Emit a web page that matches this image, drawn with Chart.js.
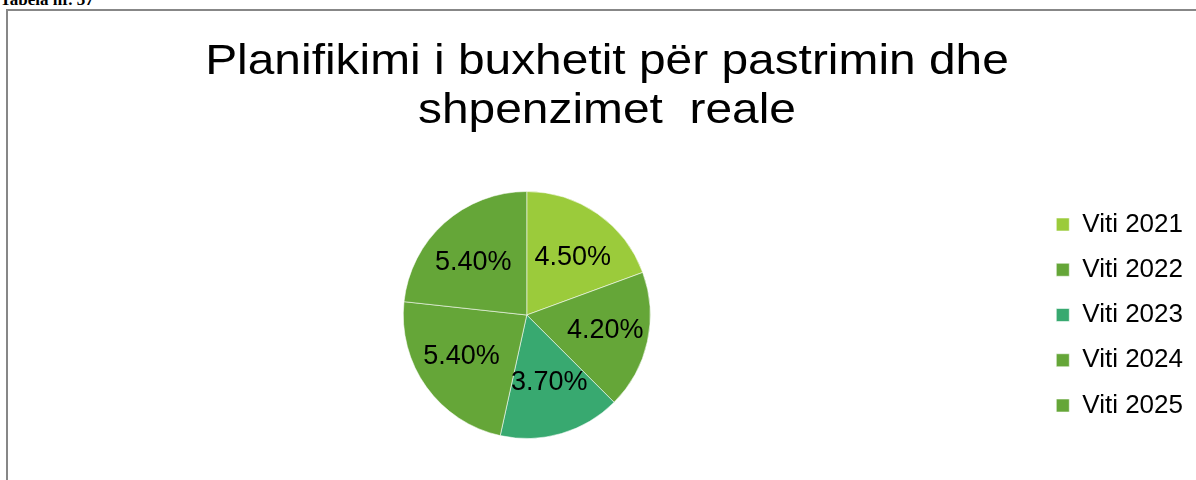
<!DOCTYPE html>
<html>
<head>
<meta charset="utf-8">
<script src="https://cdn.jsdelivr.net/npm/chart.js@4"></script>
<style>
  html, body { margin: 0; padding: 0; background: #fff; overflow: hidden; }
  #caption {
    position: absolute; left: 0; top: -8px;
    font: bold 17px "Liberation Serif", serif; line-height: 16px; color: #000;
  }
  #frame {
    position: absolute; left: 6px; top: 9px; width: 1240px; height: 520px;
    border: 2px solid #878787;
  }
  #wrap { position: absolute; left: 0; top: 0; width: 1196px; height: 480px; }
</style>
</head>
<body>
<div id="caption">Tabela nr. 37</div>
<div id="frame"></div>
<div id="wrap"><canvas id="pieChart"></canvas></div>
<script>
const titleLines = ['Planifikimi i buxhetit për pastrimin dhe', 'shpenzimet  reale'];
const years = ['Viti 2021', 'Viti 2022', 'Viti 2023', 'Viti 2024', 'Viti 2025'];
const shares = [4.5, 4.2, 3.7, 5.4, 5.4];
const sliceColors = ['#9BCB3B', '#65A638', '#38A970', '#65A638', '#65A638'];

// the title in the source is a bit wider than plain Arial, so stretch it a little
const wideTitle = {
  id: 'wideTitle',
  afterDraw(chart) {
    const ctx = chart.ctx;
    ctx.save();
    ctx.font = '42px "Liberation Sans", Arial, sans-serif';
    ctx.fillStyle = '#000';
    ctx.textAlign = 'center';
    ctx.textBaseline = 'alphabetic';
    ctx.translate(607, 0);
    ctx.scale(1.14, 1);
    ctx.fillText(titleLines[0], 0, 74);
    ctx.fillText(titleLines[1], 0, 123);
    ctx.restore();
  }
};

// percent labels inside each slice (pushed a bit sideways, like Excel's best fit)
const sliceLabels = {
  id: 'sliceLabels',
  afterDatasetsDraw(chart) {
    const ctx = chart.ctx;
    const meta = chart.getDatasetMeta(0);
    ctx.save();
    ctx.font = '27px "Liberation Sans", Arial, sans-serif';
    ctx.fillStyle = '#000';
    ctx.textAlign = 'center';
    ctx.textBaseline = 'middle';
    meta.data.forEach((arc, i) => {
      const p = arc.getProps(['x', 'y', 'startAngle', 'endAngle', 'outerRadius'], true);
      const mid = (p.startAngle + p.endAngle) / 2;
      const txt = shares[i].toFixed(2) + '%';
      ctx.fillText(txt,
        p.x + Math.cos(mid) * p.outerRadius * 0.65,
        p.y + Math.sin(mid) * p.outerRadius * 0.57);
    });
    ctx.restore();
  }
};

new Chart(document.getElementById('pieChart').getContext('2d'), {
  type: 'pie',
  data: {
    labels: years,
    datasets: [{
      data: shares,
      backgroundColor: sliceColors,
      borderColor: 'rgba(255,255,255,0.55)',
      borderWidth: 1
    }]
  },
  options: {
    responsive: true,
    maintainAspectRatio: false,
    animation: false,
    layout: {
      padding: { left: 16.5, right: 3, top: 191, bottom: 41 }
    },
    plugins: {
      title: { display: false },
      legend: {
        position: 'right',
        fullSize: false,
        labels: {
          color: '#000',
          boxWidth: 13,
          boxHeight: 13,
          padding: 19.25,
          font: { family: '"Liberation Sans", Arial, sans-serif', size: 26 }
        }
      },
      tooltip: { enabled: false }
    }
  },
  plugins: [sliceLabels, wideTitle]
});
</script>
</body>
</html>
